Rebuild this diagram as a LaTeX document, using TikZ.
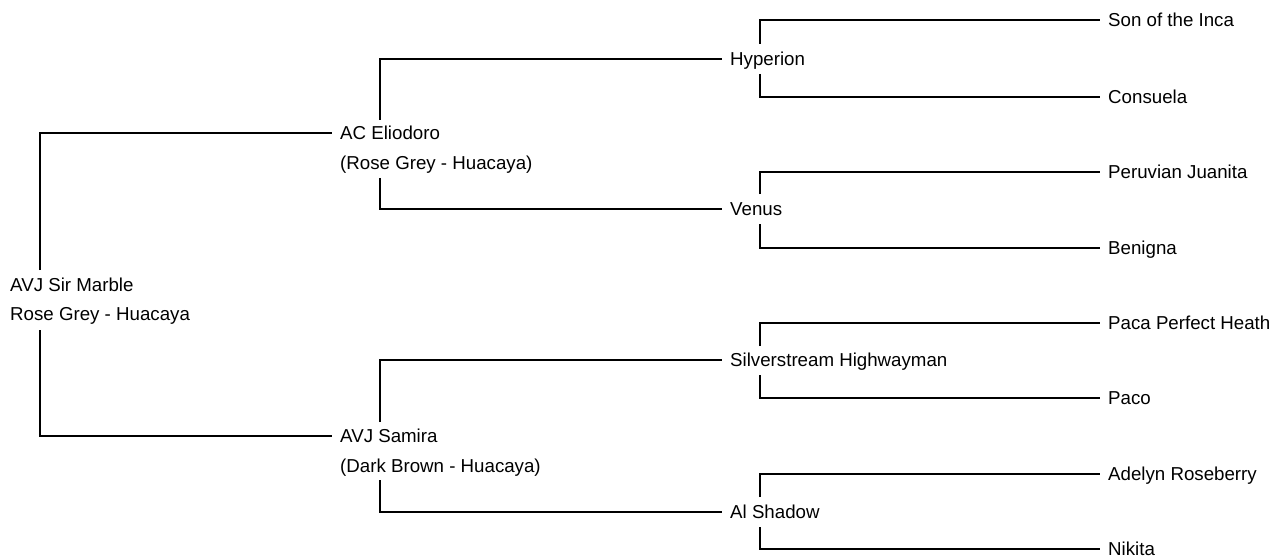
\documentclass[tikz,border=0pt]{standalone}
\usepackage{fontspec}
\setmainfont{Liberation Sans}
\usetikzlibrary{calc}
\tikzset{
  lbl/.style={anchor=base west, inner sep=0pt, font=\fontsize{18.7}{22}\selectfont, text=black},
  conn/.style={line width=1.2pt, draw=black}
}
\begin{document}
\begin{tikzpicture}[x=1pt,y=-1pt]
\useasboundingbox (0,0) rectangle (1272,559);
% generation 0
\node[lbl] (r1) at (10,291.7) {AVJ Sir Marble};
\node[lbl] (r2) at (10,320.7) {Rose Grey - Huacaya};
% generation 1
\node[lbl] (e1) at (340,139.7) {AC Eliodoro};
\node[lbl] (e2) at (340,169.7) {(Rose Grey - Huacaya)};
\node[lbl] (s1) at (340,442.7) {AVJ Samira};
\node[lbl] (s2) at (340,472.7) {(Dark Brown - Huacaya)};
% generation 2
\node[lbl] (hy) at (730,65.7) {Hyperion};
\node[lbl] (ve) at (730,215.7) {Venus};
\node[lbl] (si) at (730,366.7) {Silverstream Highwayman};
\node[lbl] (al) at (730,518.7) {Al Shadow};
% generation 3
\node[lbl] (so) at (1108,26.7) {Son of the Inca};
\node[lbl] (co) at (1108,103.7) {Consuela};
\node[lbl] (pj) at (1108,178.7) {Peruvian Juanita};
\node[lbl] (be) at (1108,254.7) {Benigna};
\node[lbl] (pp) at (1108,329.7) {Paca Perfect Heath};
\node[lbl] (pc) at (1108,404.7) {Paco};
\node[lbl] (ad) at (1108,480.7) {Adelyn Roseberry};
\node[lbl] (ni) at (1108,555.7) {Nikita};
% connectors
\draw[conn] ($(r1.base west)+(30,-21.7)$) |- ($(e1.base west)+(-8,-6.7)$);
\draw[conn] ($(r2.base west)+(30,9.3)$) |- ($(s1.base west)+(-8,-6.7)$);
\draw[conn] ($(e1.base west)+(40,-19.7)$) |- ($(hy.base west)+(-8,-6.7)$);
\draw[conn] ($(e2.base west)+(40,8.3)$) |- ($(ve.base west)+(-8,-6.7)$);
\draw[conn] ($(s1.base west)+(40,-20.7)$) |- ($(si.base west)+(-8,-6.7)$);
\draw[conn] ($(s2.base west)+(40,7.3)$) |- ($(al.base west)+(-8,-6.7)$);
\draw[conn] ($(hy.base west)+(30,-21.7)$) |- ($(so.base west)+(-8,-6.7)$);
\draw[conn] ($(hy.base west)+(30,8.3)$) |- ($(co.base west)+(-8,-6.7)$);
\draw[conn] ($(ve.base west)+(30,-21.7)$) |- ($(pj.base west)+(-8,-6.7)$);
\draw[conn] ($(ve.base west)+(30,8.3)$) |- ($(be.base west)+(-8,-6.7)$);
\draw[conn] ($(si.base west)+(30,-20.7)$) |- ($(pp.base west)+(-8,-6.7)$);
\draw[conn] ($(si.base west)+(30,8.3)$) |- ($(pc.base west)+(-8,-6.7)$);
\draw[conn] ($(al.base west)+(30,-21.7)$) |- ($(ad.base west)+(-8,-6.7)$);
\draw[conn] ($(al.base west)+(30,8.3)$) |- ($(ni.base west)+(-8,-6.7)$);
\end{tikzpicture}
\end{document}
